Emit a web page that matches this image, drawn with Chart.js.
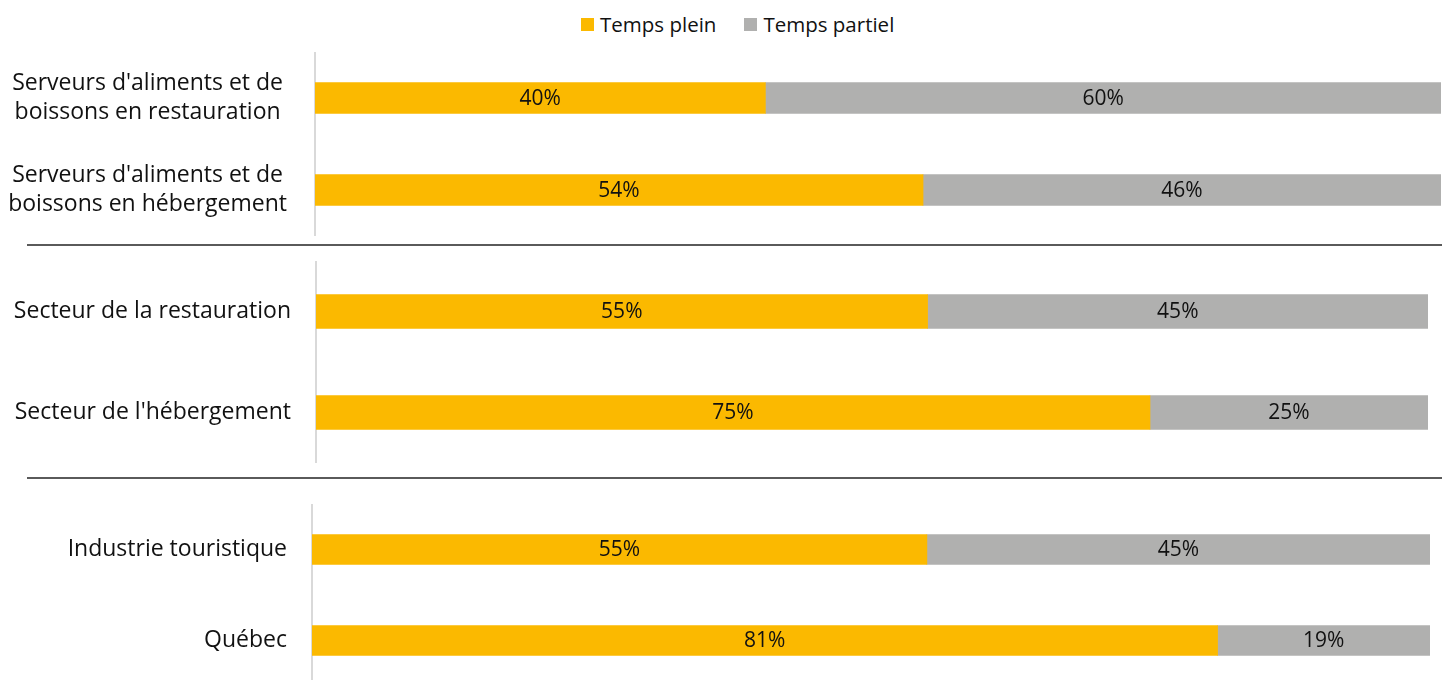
<!DOCTYPE html>
<html>
<head>
<meta charset="utf-8">
<script src="https://cdn.jsdelivr.net/npm/chart.js@4"></script>
<style>
  html, body { margin: 0; padding: 0; background: #fff; overflow: hidden; }
  body { width: 1442px; height: 680px; position: relative; font-family: "Open Sans", sans-serif; }
  .box { position: absolute; left: 0; width: 1442px; }
  .sep { position: absolute; left: 27px; right: 0; height: 2px; background: #5a5a5a; }
  #legend { position: absolute; top: 10px; left: 581px; display: flex; align-items: center; font-size: 20.5px; color: #111; }
  #legend span.sw { display: inline-block; width: 13px; height: 13px; margin-right: 6px; }
  #legend span.item { display: flex; align-items: center; margin-right: 28px; }
</style>
</head>
<body>

<div id="legend"></div>

<div class="box" style="top:52px;height:184px"><canvas id="chart1"></canvas></div>
<div class="sep" style="top:244px"></div>
<div class="box" style="top:261px;height:202px"><canvas id="chart2"></canvas></div>
<div class="sep" style="top:477px"></div>
<div class="box" style="top:504px;height:182px"><canvas id="chart3"></canvas></div>

<script>

// data
const seriesNames = ["Temps plein", "Temps partiel"];
const seriesColors = ["#FBB900", "#B0B0AF"];

const labels1 = [
    ["Serveurs d'aliments et de", "boissons en restauration"],
    ["Serveurs d'aliments et de", "boissons en hébergement"]
];
const plein1 = [40, 54];
const partiel1 = [60, 46];

const labels2 = ["Secteur de la restauration", "Secteur de l'hébergement"];
const plein2 = [55, 75];
const partiel2 = [45, 25];

const labels3 = ["Industrie touristique", "Québec"];
const plein3 = [55, 81];
const partiel3 = [45, 19];

// legend
const legendEl = document.getElementById("legend");
seriesNames.forEach((name, i) => {
    const item = document.createElement("span");
    item.className = "item";
    item.innerHTML = '<span class="sw" style="background:' + seriesColors[i] + '"></span>' + name;
    legendEl.appendChild(item);
});

// value labels in the middle of each bar
const barValues = {
    id: "barValues",
    afterDatasetsDraw(chart) {
        const c = chart.ctx;
        c.save();
        c.font = "21px 'Open Sans', sans-serif";
        c.fillStyle = "#111";
        c.textAlign = "center";
        c.textBaseline = "middle";
        chart.data.datasets.forEach((ds, i) => {
            chart.getDatasetMeta(i).data.forEach((bar, j) => {
                c.fillText(ds.data[j] + "%", (bar.base + bar.x) / 2, bar.y + 1);
            });
        });
        c.restore();
    }
};

function makeChart(id, labels, plein, partiel, opts) {

    new Chart(document.getElementById(id), {

        type: "bar",

        data: {
            labels: labels,
            datasets: [
                { label: seriesNames[0], data: plein, backgroundColor: seriesColors[0], barThickness: opts.thick },
                { label: seriesNames[1], data: partiel, backgroundColor: seriesColors[1], barThickness: opts.thick }
            ]
        },

        options: {
            indexAxis: "y",
            responsive: true,
            maintainAspectRatio: false,
            animation: false,
            layout: { padding: { left: 0, right: opts.padRight, top: 0, bottom: 0 } },
            plugins: {
                legend: { display: false },
                tooltip: { enabled: false }
            },
            scales: {
                x: {
                    stacked: true,
                    display: false,
                    min: 0,
                    max: 100
                },
                y: {
                    stacked: true,
                    grid: { display: false, drawTicks: false },
                    border: { display: true, color: "#D9D9D9", width: 2 },
                    ticks: {
                        color: "#111",
                        font: { family: "'Open Sans', sans-serif", size: 23, lineHeight: 1.3 },
                        crossAlign: opts.align,
                        padding: opts.labelPad
                    },
                    afterFit(scale) {
                        scale.width = opts.axisX;
                        // keep the label padding from shrinking the plot vertically
                        scale.paddingTop = 0;
                        scale.paddingBottom = 0;
                    }
                }
            }
        },

        plugins: [barValues]

    });
}

makeChart("chart1", labels1, plein1, partiel1, { thick: 31, padRight: 1, axisX: 315, align: "center", labelPad: 28 });
makeChart("chart2", labels2, plein2, partiel2, { thick: 34, padRight: 14, axisX: 316, align: "near", labelPad: 25 });
makeChart("chart3", labels3, plein3, partiel3, { thick: 30, padRight: 12, axisX: 312, align: "near", labelPad: 25 });

</script>
</body>
</html>
